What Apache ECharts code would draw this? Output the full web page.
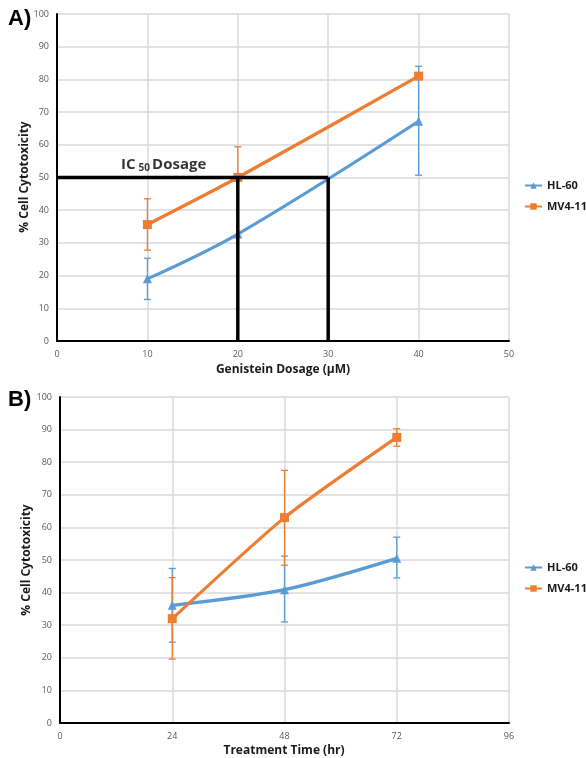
<!DOCTYPE html>
<html>
<head>
<meta charset="utf-8">
<script src="https://cdn.jsdelivr.net/npm/echarts@6/dist/echarts.min.js"></script>
<style>
html,body{margin:0;padding:0;background:#fff;}
#chart{width:586px;height:758px;}
</style>
</head>
<body>
<div id="chart"></div>
<script>
// ---- Panel A: dose response ----
const dosage = [10, 20, 40];
const hl60Dose = [19, 32.7, 67.2];
const hl60DoseLow = [12.7, 32.7, 50.7];
const hl60DoseHigh = [25.3, 32.7, 84];
const mv411Dose = [35.6, 50, 81];
const mv411DoseLow = [27.8, 50, 81];
const mv411DoseHigh = [43.5, 59.4, 81];
const ic50Value = 50;
const ic50Doses = [20, 30];
const doseTicks = [0, 10, 20, 30, 40, 50];

// ---- Panel B: time course ----
const times = [24, 48, 72];
const hl60Time = [36.1, 40.9, 50.5];
const hl60TimeLow = [24.8, 31, 44.5];
const hl60TimeHigh = [47.4, 51.2, 57];
const mv411Time = [32, 63, 87.6];
const mv411TimeLow = [19.6, 48.4, 84.9];
const mv411TimeHigh = [44.6, 77.5, 90.3];
const timeTicks = [0, 24, 48, 72, 96];
const pctTicks = [0, 10, 20, 30, 40, 50, 60, 70, 80, 90, 100];

const BLUE = '#5B9BD5', ORANGE = '#ED7D31';
const FONT = '"Open Sans", "Liberation Sans", Arial, sans-serif';

function pairs(xs, ys) { return xs.map((x, i) => [x, ys[i]]); }
function errData(xs, ys, lo, hi) { return xs.map((x, i) => [x, ys[i], lo[i], hi[i]]); }

function errSeries(name, idx, xs, ys, lo, hi, color) {
  return {
    type: 'custom', name: name, xAxisIndex: idx, yAxisIndex: idx, z: 2,
    silent: true,
    data: errData(xs, ys, lo, hi),
    encode: {x: 0, y: [1, 2, 3]},
    renderItem: function (params, api) {
      const x = api.value(0);
      const v = api.value(1), lo = api.value(2), hi = api.value(3);
      const pv = api.coord([x, v]);
      const p1 = api.coord([x, lo]);
      const p2 = api.coord([x, hi]);
      const cw = 3.5;
      const st = {stroke: color, lineWidth: 1.3};
      const ch = [];
      if (lo < v) {
        ch.push({type: 'line', shape: {x1: pv[0], y1: pv[1], x2: p1[0], y2: p1[1]}, style: st});
        ch.push({type: 'line', shape: {x1: p1[0]-cw, y1: p1[1], x2: p1[0]+cw, y2: p1[1]}, style: st});
      }
      if (hi > v) {
        ch.push({type: 'line', shape: {x1: pv[0], y1: pv[1], x2: p2[0], y2: p2[1]}, style: st});
        ch.push({type: 'line', shape: {x1: p2[0]-cw, y1: p2[1], x2: p2[0]+cw, y2: p2[1]}, style: st});
      }
      return {type: 'group', children: ch};
    }
  };
}

function lineSeries(name, idx, xs, ys, color, symbol, smooth) {
  return {
    type: 'line', name: name, xAxisIndex: idx, yAxisIndex: idx, z: 3,
    data: pairs(xs, ys), smooth: smooth,
    symbol: symbol, symbolSize: 9,
    lineStyle: {color: color, width: 3.2},
    itemStyle: {color: color},
    showSymbol: true
  };
}

function xAxis(idx, ticks) {
  return {
    type: 'value', gridIndex: idx, min: ticks[0], max: ticks[ticks.length-1],
    interval: ticks[1] - ticks[0],
    axisLine: {show: true, onZero: false, lineStyle: {color: '#000', width: 2}},
    axisTick: {show: false},
    axisLabel: {color: '#595959', fontSize: 9, fontFamily: FONT, margin: 9},
    splitLine: {show: true, lineStyle: {color: '#d9d9d9', width: 1.5}}
  };
}
function yAxis(idx) {
  return {
    type: 'value', gridIndex: idx, min: pctTicks[0], max: pctTicks[pctTicks.length-1], interval: 10,
    axisLine: {show: true, lineStyle: {color: '#000', width: 2}},
    axisTick: {show: false},
    axisLabel: {color: '#595959', fontSize: 9, fontFamily: FONT, margin: 8},
    splitLine: {show: true, lineStyle: {color: '#d9d9d9', width: 1.5}}
  };
}

const blackLine = {color: '#000', width: 3.5};
const ic50Lines = [
  [[0, ic50Value], [ic50Doses[1], ic50Value]],
  [[ic50Doses[0], 0], [ic50Doses[0], ic50Value]],
  [[ic50Doses[1], 0], [ic50Doses[1], ic50Value]]
];

const series = [
  errSeries('errA1', 0, dosage, hl60Dose, hl60DoseLow, hl60DoseHigh, BLUE),
  errSeries('errA2', 0, dosage, mv411Dose, mv411DoseLow, mv411DoseHigh, ORANGE),
  lineSeries('HL-60', 0, dosage, hl60Dose, BLUE, 'triangle', 0.35),
  lineSeries('MV4-11', 0, dosage, mv411Dose, ORANGE, 'rect', 0.2),
  errSeries('errB1', 1, times, hl60Time, hl60TimeLow, hl60TimeHigh, BLUE),
  errSeries('errB2', 1, times, mv411Time, mv411TimeLow, mv411TimeHigh, ORANGE),
  lineSeries('HL-60', 1, times, hl60Time, BLUE, 'triangle', 0.3),
  lineSeries('MV4-11', 1, times, mv411Time, ORANGE, 'rect', 0.2)
];
ic50Lines.forEach((seg, i) => {
  series.push({type: 'line', name: 'ic50_' + i, xAxisIndex: 0, yAxisIndex: 0, z: 5,
    data: seg, symbol: 'none', lineStyle: blackLine, silent: true});
});
series.push({
  type: 'scatter', name: 'ic50label', xAxisIndex: 0, yAxisIndex: 0, z: 6, silent: true,
  symbolSize: 0, data: [[11.8, 53.8]],
  label: {show: true, position: 'inside',
    formatter: '{a|IC}{b|50}{a|Dosage}',
    rich: {
      a: {fontSize: 15, fontWeight: 'bold', color: '#000', fontFamily: FONT},
      b: {fontSize: 10, fontWeight: 'bold', color: '#000', fontFamily: FONT, padding: [7, 2, 0, 3]}
    }}
});

const legendCommon = {
  orient: 'vertical', data: ['HL-60', 'MV4-11'], left: 524, padding: 0,
  itemWidth: 17, itemHeight: 8, itemGap: 10, selectedMode: false,
  textStyle: {fontSize: 11, fontWeight: 'bold', color: '#1a1a1a', fontFamily: FONT}
};

const option = {
  animation: false,
  backgroundColor: '#fff',
  grid: [
    {left: 57, right: 77, top: 14, bottom: 417},
    {left: 60, right: 77, top: 397, bottom: 35}
  ],
  xAxis: [xAxis(0, doseTicks), xAxis(1, timeTicks)],
  yAxis: [yAxis(0), yAxis(1)],
  legend: [
    Object.assign({}, legendCommon, {top: 180}),
    Object.assign({}, legendCommon, {top: 562})
  ],
  series: series,
  graphic: [
    {type: 'text', left: 8, top: 8, style: {text: 'A)', fontSize: 22, fontWeight: 'bold', fill: '#000', fontFamily: '"Liberation Sans", Arial, sans-serif'}},
    {type: 'text', left: 8, top: 389, style: {text: 'B)', fontSize: 22, fontWeight: 'bold', fill: '#000', fontFamily: '"Liberation Sans", Arial, sans-serif'}},
    {type: 'text', x: 283, y: 370, style: {text: 'Genistein Dosage (µM)', fontSize: 12, fontWeight: 'bold', fill: '#1a1a1a', align: 'center', verticalAlign: 'middle', fontFamily: FONT}},
    {type: 'text', x: 284, y: 751, style: {text: 'Treatment Time (hr)', fontSize: 12, fontWeight: 'bold', fill: '#1a1a1a', align: 'center', verticalAlign: 'middle', fontFamily: FONT}},
    {type: 'text', x: 25, y: 177, rotation: Math.PI/2, style: {text: '% Cell Cytotoxicity', fontSize: 12, fontWeight: 'bold', fill: '#1a1a1a', align: 'center', verticalAlign: 'middle', fontFamily: FONT}},
    {type: 'text', x: 27, y: 560, rotation: Math.PI/2, style: {text: '% Cell Cytotoxicity', fontSize: 12, fontWeight: 'bold', fill: '#1a1a1a', align: 'center', verticalAlign: 'middle', fontFamily: FONT}}
  ]
};

const chart = echarts.init(document.getElementById('chart'), null, {renderer: 'canvas'});
chart.setOption(option);
</script>
</body>
</html>
